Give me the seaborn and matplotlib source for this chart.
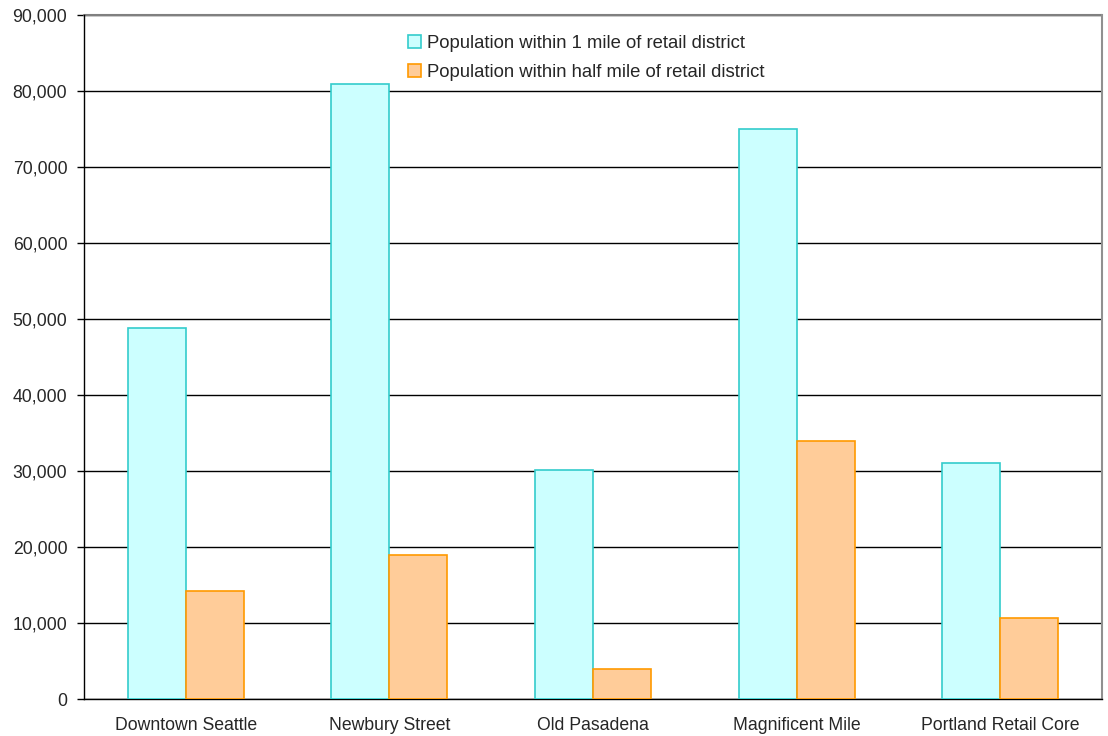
import matplotlib
matplotlib.use("Agg")
import matplotlib.pyplot as plt
import matplotlib.ticker as mticker
import numpy as np
import pandas as pd
import seaborn as sns

districts = ["Downtown Seattle", "Newbury Street", "Old Pasadena",
             "Magnificent Mile", "Portland Retail Core"]
series_names = ["Population within 1 mile of retail district",
                "Population within half mile of retail district"]
pop_1_mile = [48800, 80900, 30100, 75000, 31100]
pop_half_mile = [14200, 19000, 3900, 33900, 10700]

df = pd.DataFrame({
    "district": districts * 2,
    "series": [series_names[0]] * len(districts) + [series_names[1]] * len(districts),
    "population": pop_1_mile + pop_half_mile,
})

fills = ["#CCFFFF", "#FFCC99"]
edges = ["#33CCCC", "#FF9900"]

sns.set_theme(style="white")
plt.rcParams["font.family"] = ["Liberation Sans", "DejaVu Sans"]

fig = plt.figure(figsize=(11.08, 7.36), dpi=100)
ax = fig.add_axes([84 / 1108, 1 - 699 / 736, (1102 - 84) / 1108, (699 - 15) / 736])

sns.barplot(data=df, x="district", y="population", hue="series",
            hue_order=series_names, order=districts, palette=fills,
            width=0.57, gap=0, dodge=True, errorbar=None, ax=ax,
            saturation=1, legend=True)

# outline each series in its own darker tone
for container, ec in zip(ax.containers, edges):
    for bar in container:
        bar.set_edgecolor(ec)
        bar.set_linewidth(1.2)
        bar.set_zorder(3)

ax.set_ylim(0, 90000)
ax.set_xlim(-0.5, len(districts) - 0.5)
ax.yaxis.set_major_locator(mticker.MultipleLocator(10000))
ax.yaxis.set_major_formatter(mticker.FuncFormatter(lambda v, p: f"{int(v):,}"))
ax.grid(axis="y", color="black", linewidth=1.0, zorder=0)
ax.set_axisbelow(True)

ax.set_xlabel("")
ax.set_ylabel("")

# spines
ax.spines["top"].set_visible(False)
ax.spines["right"].set_color("#909090")
ax.spines["right"].set_linewidth(1.5)
for s in ("left", "bottom"):
    ax.spines[s].set_color("black")
    ax.spines[s].set_linewidth(1.0)

# top gridline drawn in grey like the frame
ax.axhline(90000, color="#808080", linewidth=1.5, zorder=1, clip_on=False)

# tick marks between categories on the x axis
ax.set_xticks(np.arange(-0.5, len(districts)), minor=True)
ax.tick_params(axis="x", which="major", length=0, pad=13, labelsize=12.7)
ax.tick_params(axis="x", which="minor", length=5, width=1, color="black",
               direction="out")
ax.tick_params(axis="y", which="major", length=5, width=1, color="black",
               direction="out", left=True, labelsize=12.7, pad=7)

leg = ax.legend(loc="upper left", bbox_to_anchor=(0.302, 0.995), frameon=False,
                fontsize=13.3, handlelength=0.7, handleheight=0.7,
                handletextpad=0.35, labelspacing=0.65)
for h, ec in zip(leg.legend_handles, edges):
    h.set_edgecolor(ec)
    h.set_linewidth(1.2)

fig.savefig("out.png", dpi=100)
